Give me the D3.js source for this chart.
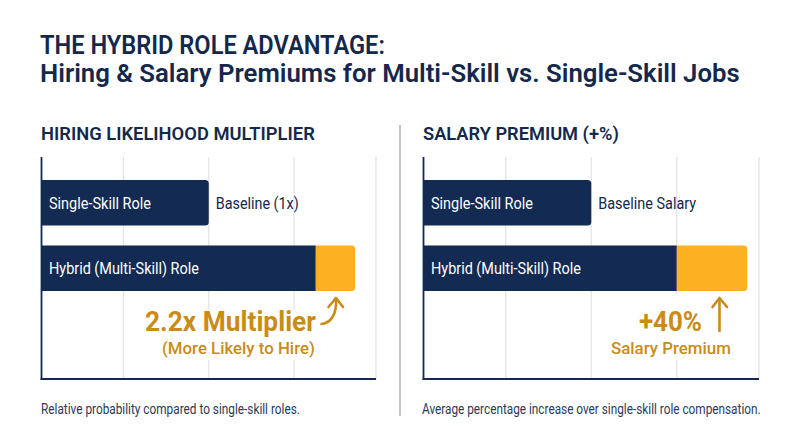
<!DOCTYPE html>
<html><head><meta charset="utf-8">
<script src="https://cdn.jsdelivr.net/npm/d3@7"></script>
<style>html,body{margin:0;padding:0;background:#fff}svg{display:block}text{font-family:Roboto,sans-serif}</style>
</head><body><svg id="c" width="800" height="447"></svg>
<script>
const titleLines = ["THE HYBRID ROLE ADVANTAGE:", "Hiring & Salary Premiums for Multi-Skill vs. Single-Skill Jobs"];
const categories = ["Single-Skill Role", "Hybrid (Multi-Skill) Role"];
const gridTicks = [0.49, 1, 1.51, 2];
const panelTitles = ["HIRING LIKELIHOOD MULTIPLIER", "SALARY PREMIUM (+%)"];
const singleValues = [1, 1];
const hybridBaseValues = [1.64, 1.51];
const hybridPremiumValues = [0.235, 0.42];
const baselineLabels = ["Baseline (1x)", "Baseline Salary"];
const calloutMain = ["2.2x Multiplier", "+40%"];
const calloutSub = ["(More Likely to Hire)", "Salary Premium"];
const footnotes = ["Relative probability compared to single-skill roles.", "Average percentage increase over single-skill role compensation."];

const NAVY="#132a52", GOLD="#fdb022", GOLDTXT="#c98c16", INK="#14284b";
const svg=d3.select("#c");
svg.append("rect").attr("width",800).attr("height",447).attr("fill","#fff");

// place a text so that it spans w pixels, squeezing the glyphs horizontally
function fit(sel,str,x,y,w,size,weight,fill){
  const t=sel.append("text").attr("font-size",size).attr("font-weight",weight).attr("fill",fill).text(str);
  const natural=t.node().getComputedTextLength();
  t.attr("transform",`translate(${x},${y}) scale(${w/natural},1)`);
  return t;
}
fit(svg,titleLines[0],40,54,345,25,600,INK);
fit(svg,titleLines[1],40,82,700,25.5,600,INK);
svg.append("line").attr("x1",400).attr("x2",400).attr("y1",125).attr("y2",416).attr("stroke","#9c9c9c").attr("stroke-width",1.2);

const panels=[
 {x0:41.5,x1:376,titleW:274,titleX:41,baseW:83,mainX:145,mainW:171,subX:162,subW:153,footX:41,footW:259,curved:true,haloX:142,haloW:177,haloTop:310},
 {x0:423.5,x1:759,titleW:196,titleX:423,baseW:98,mainX:639,mainW:63,subX:611,subW:120,footX:422,footW:339,curved:false,haloX:608,haloW:126,haloTop:294}
];
const yTop=157,yBot=379;
const y=d3.scaleBand().domain(categories).range([180,291]).paddingInner(0.305).paddingOuter(0);

panels.forEach((p,i)=>{
  const g=svg.append("g");
  const x=d3.scaleLinear().domain([0,2]).range([p.x0,p.x1]);
  fit(g,panelTitles[i],p.titleX,140,p.titleW,17.5,600,INK);
  g.selectAll("line.grid").data(gridTicks).join("line").attr("class","grid")
    .attr("x1",d=>x(d)).attr("x2",d=>x(d)).attr("y1",yTop).attr("y2",yBot)
    .attr("stroke","#e2e2e2").attr("stroke-width",1.2);

  const b0=y(categories[0]), b1=y(categories[1]), h=y.bandwidth(), r=3.5;
  const rr=(xa,xb,yy)=>`M${xa},${yy}H${xb-r}Q${xb},${yy} ${xb},${yy+r}V${yy+h-r}Q${xb},${yy+h} ${xb-r},${yy+h}H${xa}Z`;
  g.append("path").attr("d",rr(x(0),x(singleValues[i]),b0)).attr("fill",NAVY);
  g.append("rect").attr("x",x(0)).attr("y",b1).attr("width",x(hybridBaseValues[i])-x(0)).attr("height",h).attr("fill",NAVY);
  g.append("path").attr("d",rr(x(hybridBaseValues[i]),x(hybridBaseValues[i]+hybridPremiumValues[i]),b1)).attr("fill",GOLD);

  fit(g,categories[0],x(0)+7.5,b0+h/2+6,102,17,400,"#fff");
  fit(g,categories[1],x(0)+7.5,b1+h/2+6,150,17,400,"#fff");
  fit(g,baselineLabels[i],x(singleValues[i])+7,b0+h/2+6,p.baseW,17,400,INK);

  g.append("rect").attr("fill","#fff").attr("x",p.haloX).attr("y",p.haloTop).attr("width",p.haloW).attr("height",360-p.haloTop);
  fit(g,calloutMain[i],p.mainX,331,p.mainW,27,700,GOLDTXT);
  fit(g,calloutSub[i],p.subX,353.5,p.subW,17,500,GOLDTXT);

  fit(g,footnotes[i],p.footX,414,p.footW,14.5,400,"#2b3a57");

  g.append("line").attr("x1",x(0)).attr("x2",x(0)).attr("y1",yTop).attr("y2",yBot+1).attr("stroke",NAVY).attr("stroke-width",1.8);
  g.append("line").attr("x1",x(0)-0.9).attr("x2",x(2)).attr("y1",yBot).attr("y2",yBot).attr("stroke",NAVY).attr("stroke-width",1.8);

  const arrow=g.append("g").attr("fill","none").attr("stroke",GOLDTXT).attr("stroke-linecap","round").attr("stroke-linejoin","round").attr("stroke-width",2.6);
  if(p.curved){
    arrow.append("path").attr("d","M321.5,324 C331,323 337,314 336,299");
    arrow.append("path").attr("d","M328.5,307 L336,298 L343,307");
  } else {
    arrow.append("path").attr("d","M719.5,331 V299");
    arrow.append("path").attr("d","M712.5,307 L719.5,298 L727,307");
  }
});
</script></body></html>
